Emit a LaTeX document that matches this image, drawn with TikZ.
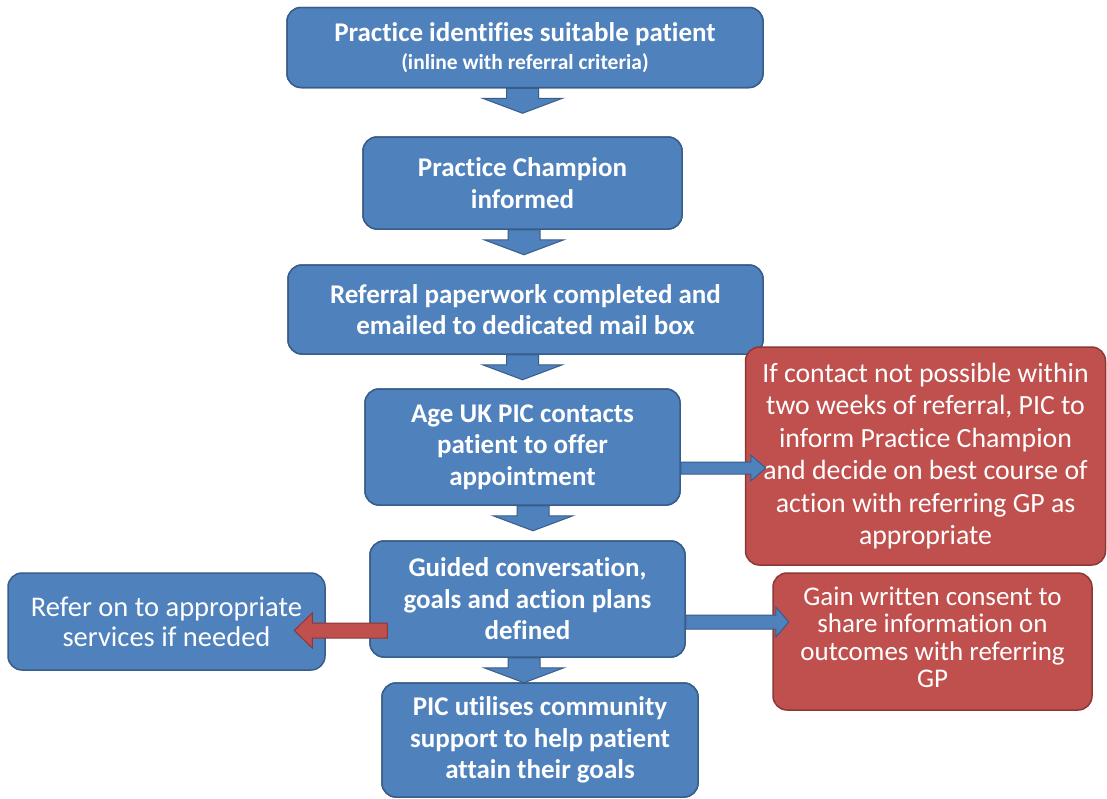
\documentclass[tikz,border=0pt]{standalone}
\usepackage{fontspec}
\setmainfont{Carlito}[Ligatures=NoCommon]
\usetikzlibrary{calc}
\definecolor{bfill}{HTML}{4F81BD}
\definecolor{bline}{HTML}{385D8A}
\definecolor{rfill}{HTML}{C0504D}
\definecolor{rline}{HTML}{8C3836}
\tikzset{
  box/.style={draw=bline, fill=bfill, line width=1.5pt, rounded corners=14pt,
    text=white, align=center, inner sep=0pt,
    font=\fontsize{27}{31.5}\selectfont\bfseries},
  plainbox/.style={box, font=\fontsize{28.5}{30}\selectfont},
  redbox/.style={box, draw=rline, fill=rfill, font=\fontsize{27.8}{32.5}\selectfont},
  redtext/.style={text=white, align=center, inner sep=0pt, font=\fontsize{27}{27.5}\selectfont},
  barrow/.style={draw=bline, fill=bfill, line width=1pt, line join=miter},
  rarrow/.style={draw=rline, fill=rfill, line width=1pt, line join=miter},
}
\newcommand\dnarrow[2]{%
  \draw[barrow] ($(#1.south)+(#2-16,0)$) -- ++(0,10) -- ++(-24,0) -- ++(40,15)
    -- ++(40,-15) -- ++(-24,0) -- ++(0,-10) -- cycle;}
\begin{document}
\begin{tikzpicture}[x=1pt,y=-1pt]
\path[fill=white,use as bounding box] (0,0) rectangle (1107,798);

% box shapes first, down arrows, then the texts over them
\node[box, minimum width=476pt, minimum height=80pt] (b1) at (525,47.5) {};
\node[box, minimum width=319pt, minimum height=92pt] (b2) at (522.5,183) {};
\node[box, minimum width=475pt, minimum height=89pt] (b3) at (525.5,309.5) {};
\node[box, minimum width=315pt, minimum height=116pt] (b4) at (522.5,447) {};
\node[box, minimum width=315pt, minimum height=116pt] (b5) at (527.5,599) {};
\node[box, minimum width=316pt, minimum height=114pt] (b6) at (540,740) {};

\dnarrow{b1}{-2.5}
\dnarrow{b2}{1.5}
\dnarrow{b3}{-3}
\dnarrow{b4}{10.5}
\dnarrow{b5}{-3.5}

\node[box, minimum width=476pt, minimum height=80pt] at (b1) {Practice identifies suitable patient\\[-4pt]{\fontsize{21.5}{26}\selectfont (inline with referral criteria)}};
\node[box, minimum width=319pt, minimum height=92pt] at (b2) {Practice Champion\\informed};
\node[box, minimum width=475pt, minimum height=89pt] at (b3) {Referral paperwork completed and\\emailed to dedicated mail box};
\node[box, minimum width=315pt, minimum height=116pt] at (b4) {Age UK PIC contacts\\patient to offer\\appointment};
\node[box, minimum width=315pt, minimum height=116pt] at (b5) {Guided conversation,\\goals and action plans\\defined};
\node[box, minimum width=316pt, minimum height=114pt] at (b6) {PIC utilises community\\support to help patient\\attain their goals};

\node[plainbox, minimum width=317pt, minimum height=97pt] (bl) at (166.5,621.5) {Refer on to appropriate\\services if needed};
\node[redbox, minimum width=360pt, minimum height=218pt] (r1) at (925.5,456) {If contact not possible within\\two weeks of referral, PIC to\\inform Practice Champion\\and decide on best course of\\action with referring GP as\\appropriate};
\node[redbox, minimum width=319pt, minimum height=137pt] (r2) at (932.5,641.5) {};
\node[redtext] (r2t) at ($(r2)+(0,-4)$) {Gain written consent to\\share information on\\outcomes with referring\\GP};

% side arrows
\draw[barrow] ($(b4.east)+(0,15)$) -- ++(70,0) -- ++(0,-7) -- ++(15,13)
  -- ++(-15,13) -- ++(0,-7) -- ++(-70,0) -- cycle;
\draw[barrow] ($(b5.east)+(0,16)$) -- ++(90,0) -- ++(0,-8) -- ++(13,15)
  -- ++(-13,15) -- ++(0,-8) -- ++(-90,0) -- cycle;
\draw[rarrow] ($(b5.west)+(18,24)$) -- ++(-75,0) -- ++(0,-10) -- ++(-18,17.5)
  -- ++(18,17.5) -- ++(0,-10) -- ++(75,0) -- cycle;
\end{tikzpicture}
\end{document}
